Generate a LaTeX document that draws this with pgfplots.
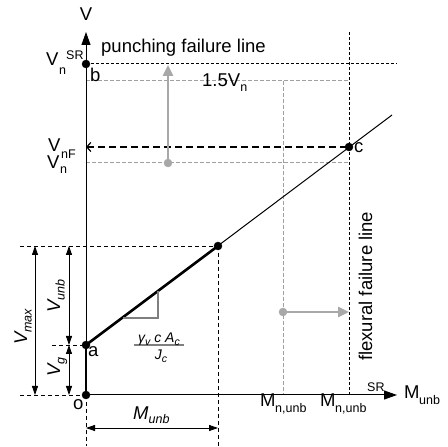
\documentclass[border=0pt]{standalone}
\usepackage{fontspec}
\setmainfont{Liberation Sans}
\usepackage{pgfplots}
\pgfplotsset{compat=1.18}
\usetikzlibrary{arrows.meta}
\definecolor{gdash}{HTML}{A0A0A0}
\definecolor{garrow}{HTML}{A8A8A8}
\definecolor{tri}{HTML}{7F7F7F}
\newcommand{\bigf}{\fontsize{18.5bp}{21bp}\selectfont}
\newcommand{\smf}{\fontsize{12.5bp}{14bp}\selectfont}
\newcommand{\sbs}[1]{\raisebox{-4.5bp}{\smf #1}}
\tikzset{lb/.style={inner sep=0pt, font=\bigf},
  sl/.style={inner sep=0pt, font=\smf}}
\begin{document}
\begin{tikzpicture}
\begin{axis}[scale only axis, width=448bp, height=446bp,
  xmin=0, xmax=448, ymin=0, ymax=446, hide axis, clip=false]
% bounding box
\addplot[draw=none] coordinates {(0,0) (448,446)};
% gray dashed guides
\addplot[gdash, dash pattern=on 4bp off 2bp, line width=1bp] coordinates {(86,365) (349,365)};
\addplot[gdash, dash pattern=on 4bp off 2bp, line width=1bp] coordinates {(283,365) (283,51)};
\addplot[gdash, dash pattern=on 4bp off 2bp, line width=1bp] coordinates {(86,283) (349,283)};
% black short dashed failure lines
\addplot[black, dash pattern=on 3bp off 2bp, line width=1bp] coordinates {(86,382) (397,382)};
\addplot[black, dash pattern=on 3bp off 2bp, line width=1bp] coordinates {(349,414) (349,51)};
% V_nF long dashed
\addplot[black, dash pattern=on 7bp off 4bp, line width=1.2bp, {Straight Barb[length=4bp,width=9bp]}-] coordinates {(86,299) (349,299)};
% dimension guides
\addplot[black, dash pattern=on 4bp off 3bp, line width=0.8bp] coordinates {(20,200) (218,200)};
\addplot[black, dash pattern=on 4bp off 3bp, line width=0.8bp] coordinates {(218,200) (218,0)};
\addplot[black, dash pattern=on 4bp off 3bp, line width=0.8bp] coordinates {(52,101) (86,101)};
\addplot[black, dash pattern=on 4bp off 3bp, line width=0.8bp] coordinates {(20,51) (86,51)};
\addplot[black, dash pattern=on 4bp off 3bp, line width=0.8bp] coordinates {(86,51) (86,0)};
% axes
\addplot[black, line width=1bp, -{Triangle[length=13bp,width=9bp]}] coordinates {(86,51) (86,414)};
\addplot[black, line width=1bp, -{Triangle[length=13bp,width=9bp]}] coordinates {(86,51) (397,51)};
% interaction line
\addplot[black, line width=1bp] coordinates {(86,101) (392,331)};
\addplot[black, line width=2.6bp] coordinates {(86,101) (218,200)};
\addplot[black, line width=2.6bp] coordinates {(86,51) (86,101)};
% slope triangle and fraction bar
\addplot[tri, line width=1.2bp] coordinates {(123,128) (158,128) (158,155)};
\addplot[tri, line width=1.2bp] coordinates {(134,101) (184,101)};
% dimension arrows
\addplot[black, line width=0.8bp, {Triangle[length=9bp,width=6bp]}-{Triangle[length=9bp,width=6bp]}] coordinates {(35,200) (35,51)};
\addplot[black, line width=0.8bp, {Triangle[length=9bp,width=6bp]}-{Triangle[length=9bp,width=6bp]}] coordinates {(69,200) (69,101)};
\addplot[black, line width=0.8bp, {Triangle[length=9bp,width=6bp]}-{Triangle[length=9bp,width=6bp]}] coordinates {(69,101) (69,51)};
\addplot[black, line width=0.8bp, {Triangle[length=9bp,width=6bp]}-{Triangle[length=9bp,width=6bp]}] coordinates {(86,18) (218,18)};
% gray arrows
\addplot[garrow, line width=2.6bp, -{Triangle[length=11bp,width=10bp]}] coordinates {(168,283) (168,381)};
\addplot[garrow, line width=2.6bp, -{Triangle[length=11bp,width=10bp]}] coordinates {(283,134) (349,134)};
\addplot[garrow, only marks, mark=*, mark size=4bp] coordinates {(168,283) (283,134)};
% black points
\addplot[black, only marks, mark=*, mark size=4bp] coordinates {(86,51) (86,101) (218,200) (86,382) (349,299)};
% labels
\node[lb, anchor=base west] at (axis cs:101,393) {punching failure line};
\node[lb, anchor=base] at (axis cs:86,425) {V};
\node[lb, anchor=base west] at (axis cs:46,380) {V};
\node[sl, anchor=base west] at (axis cs:59,371) {n};
\node[sl, anchor=base west] at (axis cs:66,386) {SR};
\node[lb, anchor=base west] at (axis cs:48,294) {V};
\node[lb, anchor=base west] at (axis cs:47,277) {V};
\node[sl, anchor=base west] at (axis cs:61,287) {nF};
\node[sl, anchor=base west] at (axis cs:60,272) {n};
\node[lb, anchor=base west] at (axis cs:90,364) {b};
\node[lb, anchor=base west] at (axis cs:88,89) {a};
\node[lb, anchor=base west] at (axis cs:73,36) {o};
\node[lb, anchor=base west] at (axis cs:354,293) {c};
\node[lb, anchor=base west] at (axis cs:202,359) {1.5V\sbs{n}};
\node[lb, anchor=base west] at (axis cs:260,39) {M};
\node[sl, anchor=base west] at (axis cs:275,33) {n,unb};
\node[lb, anchor=base west] at (axis cs:320,39) {M};
\node[sl, anchor=base west] at (axis cs:335,33) {n,unb};
\node[sl, anchor=base west] at (axis cs:367,54) {SR};
\node[lb, anchor=base west] at (axis cs:404,47) {M};
\node[sl, anchor=base west] at (axis cs:419,41) {unb};
\node[lb, anchor=base west, rotate=90] at (axis cs:372,85) {flexural failure line};
\node[lb, anchor=base west, rotate=90] at (axis cs:27,101) {\itshape V\sbs{max}};
\node[lb, anchor=base west, rotate=90] at (axis cs:60,133) {\itshape V\sbs{unb}};
\node[lb, anchor=base west, rotate=90] at (axis cs:60,69) {\itshape V\sbs{g}};
\node[lb, anchor=base west] at (axis cs:133,27) {\itshape M\sbs{unb}};
\node[inner sep=0pt, anchor=base, font=\fontsize{14bp}{16bp}\selectfont\itshape] at (axis cs:159,103) {γ\raisebox{-3bp}{\fontsize{10.5bp}{12bp}\selectfont v} c A\raisebox{-3bp}{\fontsize{10.5bp}{12bp}\selectfont c}};
\node[inner sep=0pt, anchor=base, font=\fontsize{14bp}{16bp}\selectfont\itshape] at (axis cs:161,86) {J\raisebox{-3bp}{\fontsize{10.5bp}{12bp}\selectfont c}};
\end{axis}
\end{tikzpicture}
\end{document}
